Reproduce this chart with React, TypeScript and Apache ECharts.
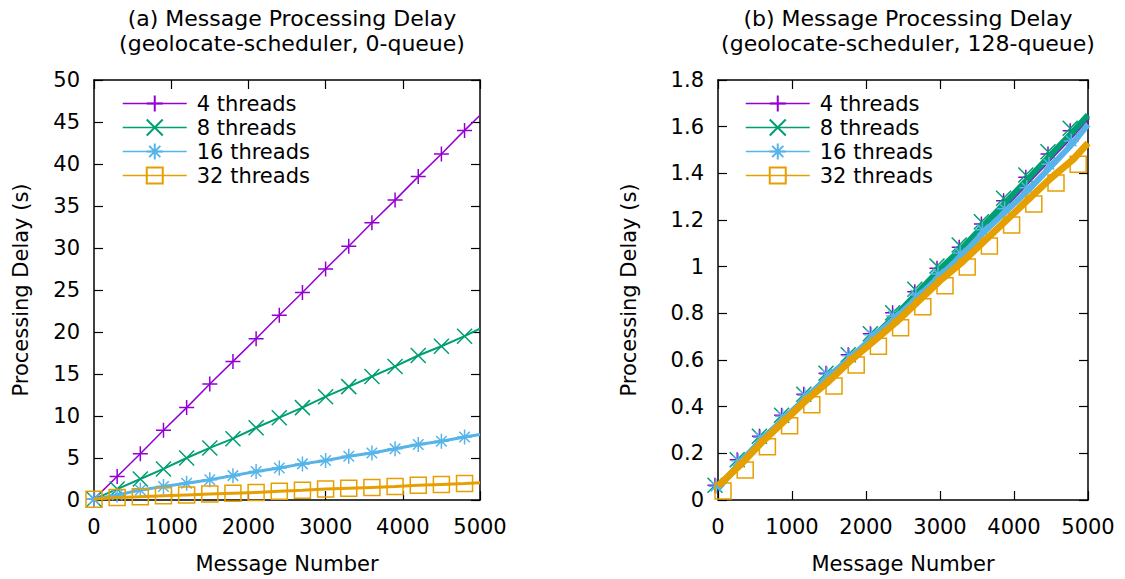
import React, { useEffect, useRef } from "react";
import * as echarts from "echarts";

// Message numbers where samples were read (markers every 300, plus the end point)
const MSG = [0, 300, 600, 900, 1200, 1500, 1800, 2100, 2400, 2700, 3000, 3300, 3600, 3900, 4200, 4500, 4800, 5000];

const SERIES_NAMES = ["4 threads", "8 threads", "16 threads", "32 threads"];

// (a) 0-queue, processing delay (s)
const A_T4 = [0.1, 2.8, 5.5, 8.3, 11.0, 13.8, 16.5, 19.2, 22.0, 24.7, 27.5, 30.2, 33.0, 35.7, 38.5, 41.2, 44.0, 45.8];
const A_T8 = [0.1, 1.3, 2.5, 3.7, 5.0, 6.2, 7.3, 8.6, 9.8, 11.0, 12.3, 13.5, 14.7, 15.9, 17.2, 18.3, 19.5, 20.4];
const A_T16 = [0.1, 0.6, 1.2, 1.6, 2.0, 2.4, 2.9, 3.4, 3.8, 4.3, 4.7, 5.2, 5.6, 6.1, 6.6, 7.0, 7.5, 7.8];
const A_T32 = [0.1, 0.3, 0.4, 0.5, 0.6, 0.7, 0.8, 0.9, 1.05, 1.15, 1.3, 1.4, 1.5, 1.6, 1.75, 1.85, 1.95, 2.05];

// (b) 128-queue, processing delay (s)
const B_T4 = [0.05, 0.16, 0.26, 0.35, 0.44, 0.53, 0.61, 0.70, 0.79, 0.88, 0.98, 1.07, 1.17, 1.27, 1.37, 1.47, 1.57, 1.64];
const B_T8 = [0.05, 0.16, 0.26, 0.35, 0.44, 0.53, 0.61, 0.70, 0.79, 0.89, 0.99, 1.08, 1.18, 1.28, 1.38, 1.48, 1.58, 1.65];
const B_T16 = [0.05, 0.16, 0.26, 0.35, 0.44, 0.53, 0.61, 0.70, 0.78, 0.87, 0.96, 1.05, 1.15, 1.24, 1.33, 1.43, 1.53, 1.61];
const B_T32 = [0.06, 0.15, 0.25, 0.34, 0.43, 0.51, 0.60, 0.68, 0.76, 0.85, 0.94, 1.02, 1.11, 1.20, 1.29, 1.38, 1.46, 1.53];

const X_TICK_INTERVAL = 1000;
const A_Y_MAX = 50;
const A_Y_INTERVAL = 5;
const B_Y_MAX = 1.8;
const B_Y_INTERVAL = 0.2;

const COLORS = ["#9400d3", "#009e73", "#56b4e9", "#e69f00"];
const SYMBOLS = [
  "path://M0,5L10,5M5,0L5,10",
  "path://M0,0L10,10M0,10L10,0",
  "path://M0,5L10,5M5,0L5,10M1.5,1.5L8.5,8.5M1.5,8.5L8.5,1.5",
  "path://M0,0L10,0L10,10L0,10Z",
];
const FONT = "DejaVu Sans";
const AX_FONT = 21;

function makeSeries(
  idx: number,
  ys: number[],
  grid: number,
  width: number,
  offset: number[]
) {
  const last = MSG.length - 1;
  return {
    type: "line",
    name: SERIES_NAMES[idx],
    xAxisIndex: grid * 2,
    yAxisIndex: grid * 2,
    data: MSG.map((x, i) =>
      i === last ? { value: [x, ys[i]], symbol: "none" } : [x, ys[i]]
    ),
    symbol: SYMBOLS[idx],
    symbolSize: idx === 3 ? 16 : 15,
    symbolOffset: offset,
    showAllSymbol: true,
    color: COLORS[idx],
    lineStyle: { color: COLORS[idx], width },
    itemStyle: { color: "rgba(0,0,0,0)", borderColor: COLORS[idx], borderWidth: 1.5 },
    emphasis: { disabled: true },
    z: 2 + idx,
  };
}

function axesFor(grid: number, yMax: number, yInterval: number, nameGap: number) {
  const common = {
    gridIndex: grid,
    axisLine: { show: true, onZero: false, lineStyle: { color: "#000", width: 1.5 } },
    axisTick: { show: true, inside: true, length: 9, lineStyle: { color: "#000", width: 1.2 } },
    splitLine: { show: false },
  };
  const xAxes = [
    {
      ...common,
      type: "value",
      position: "bottom",
      min: 0,
      max: 5000,
      interval: X_TICK_INTERVAL,
      name: "Message Number",
      nameLocation: "middle",
      nameGap: 53,
      nameTextStyle: { fontFamily: FONT, fontSize: AX_FONT, color: "#000" },
      axisLabel: {
        fontFamily: FONT,
        fontSize: AX_FONT,
        color: "#000",
        margin: 16,
        formatter: (v: number) => String(v),
      },
    },
    {
      ...common,
      type: "value",
      position: "top",
      min: 0,
      max: 5000,
      interval: X_TICK_INTERVAL,
      axisLabel: { show: false },
    },
  ];
  const yAxes = [
    {
      ...common,
      type: "value",
      position: "left",
      min: 0,
      max: yMax,
      interval: yInterval,
      name: "Processing Delay (s)",
      nameLocation: "middle",
      nameGap,
      nameRotate: 90,
      nameTextStyle: { fontFamily: FONT, fontSize: AX_FONT, color: "#000" },
      axisLabel: { fontFamily: FONT, fontSize: AX_FONT, color: "#000", margin: 14 },
    },
    {
      ...common,
      type: "value",
      position: "right",
      min: 0,
      max: yMax,
      interval: yInterval,
      axisLabel: { show: false },
    },
  ];
  return { xAxes, yAxes };
}

export default function App() {
  const ref = useRef<HTMLDivElement>(null);
  useEffect(() => {
    if (!ref.current) return;
    const chart = echarts.init(ref.current, undefined, { renderer: "svg" });
    const a = axesFor(0, A_Y_MAX, A_Y_INTERVAL, 63);
    const b = axesFor(1, B_Y_MAX, B_Y_INTERVAL, 79);
    const legendCommon = {
      orient: "vertical",
      top: 88,
      itemWidth: 64,
      itemHeight: 20,
      itemGap: 3,
      data: SERIES_NAMES,
      selectedMode: false,
      lineStyle: { width: 1.5 },
      textStyle: { fontFamily: FONT, fontSize: AX_FONT, color: "#000", padding: [0, 0, 0, 5] },
    };
    const titleStyle = { fontFamily: FONT, fontSize: 22, fontWeight: "normal", color: "#000", lineHeight: 25 };
    chart.setOption({
      animation: false,
      backgroundColor: "#fff",
      title: [
        {
          text: "(a) Message Processing Delay\n(geolocate-scheduler, 0-queue)",
          left: 287,
          top: 1,
          textAlign: "center",
          textStyle: titleStyle,
        },
        {
          text: "(b) Message Processing Delay\n(geolocate-scheduler, 128-queue)",
          left: 903,
          top: 1,
          textAlign: "center",
          textStyle: titleStyle,
        },
      ],
      legend: [
        { ...legendCommon, left: 117 },
        { ...legendCommon, left: 740 },
      ],
      grid: [
        { left: 94, top: 80, width: 386, height: 420, containLabel: false },
        { left: 718, top: 80, width: 370, height: 420, containLabel: false },
      ],
      xAxis: [...a.xAxes, ...b.xAxes],
      yAxis: [...a.yAxes, ...b.yAxes],
      series: [
        makeSeries(0, A_T4, 0, 1.5, [0, 0]),
        makeSeries(1, A_T8, 0, 2, [0, 0]),
        makeSeries(2, A_T16, 0, 3, [0, 0]),
        makeSeries(3, A_T32, 0, 3, [0, 0]),
        makeSeries(0, B_T4, 1, 5, [-3, -3]),
        makeSeries(1, B_T8, 1, 6, [-3, -3]),
        makeSeries(2, B_T16, 1, 6, [-2, -2]),
        makeSeries(3, B_T32, 1, 7, [5, 5]),
      ],
    });
    return () => chart.dispose();
  }, []);
  return (
    <div
      ref={ref}
      style={{ position: "absolute", left: 0, top: 0, width: 1125, height: 579 }}
    />
  );
}
